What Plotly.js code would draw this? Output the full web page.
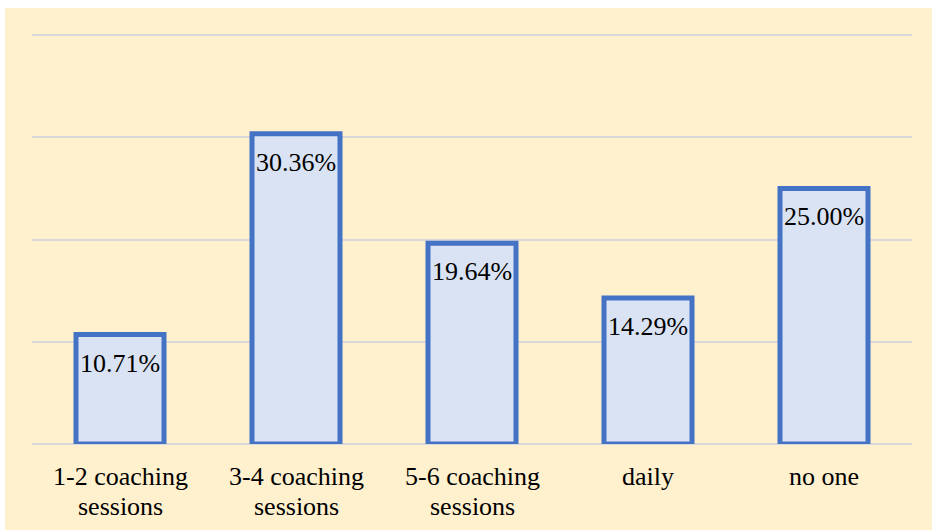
<!DOCTYPE html>
<html>
<head>
<meta charset="utf-8">
<script src="https://cdn.plot.ly/plotly-3.0.1.min.js"></script>
<style>
  html, body { margin: 0; padding: 0; background: #ffffff; width: 932px; height: 530px; overflow: hidden; }
  #chart { position: absolute; left: 5px; top: 8px; width: 927px; height: 522px; }
</style>
</head>
<body>
<div id="chart"></div>
<script>
const categories = ["1-2 coaching sessions", "3-4 coaching sessions", "5-6 coaching sessions", "daily", "no one"];
const tickLine1 = ["1-2 coaching", "3-4 coaching", "5-6 coaching", "daily", "no one"];
const tickLine2 = ["sessions", "sessions", "sessions", "", ""];
const values = [10.71, 30.36, 19.64, 14.29, 25.00];
const labels = ["10.71%", "30.36%", "19.64%", "14.29%", "25.00%"];

const serif = "Liberation Serif";

const trace = {
  type: "bar",
  x: categories,
  y: values,
  marker: { color: "#DAE3F3", line: { color: "#4472C4", width: 5 } },
  hoverinfo: "none"
};

const annotations = [];
values.forEach((v, i) => {
  annotations.push({
    x: categories[i], y: v, xref: "x", yref: "y",
    text: labels[i], showarrow: false,
    yanchor: "top", yshift: -12,
    font: { family: serif, size: 26, color: "#000000" }
  });
});
categories.forEach((c, i) => {
  annotations.push({
    x: c, y: 0, xref: "x", yref: "paper",
    text: tickLine1[i], showarrow: false,
    yanchor: "middle", yshift: -32,
    font: { family: serif, size: 26, color: "#000000" }
  });
  if (tickLine2[i]) {
    annotations.push({
      x: c, y: 0, xref: "x", yref: "paper",
      text: tickLine2[i], showarrow: false,
      yanchor: "middle", yshift: -62,
      font: { family: serif, size: 26, color: "#000000" }
    });
  }
});

const layout = {
  width: 927, height: 522,
  paper_bgcolor: "#FFF1CE",
  plot_bgcolor: "#FFF1CE",
  margin: { l: 27, r: 20, t: 22, b: 86 },
  bargap: 0.5,
  showlegend: false,
  xaxis: {
    type: "category",
    showgrid: false, zeroline: false, showline: false,
    ticks: "", showticklabels: false
  },
  yaxis: {
    range: [0, 40.5],
    dtick: 10,
    showticklabels: false,
    showgrid: true, gridcolor: "#D9D9D9", gridwidth: 2,
    zeroline: true, zerolinecolor: "#D9D9D9", zerolinewidth: 2,
    showline: false, ticks: ""
  },
  annotations: annotations
};

Plotly.newPlot("chart", [trace], layout, { displayModeBar: false, staticPlot: true });
</script>
</body>
</html>
